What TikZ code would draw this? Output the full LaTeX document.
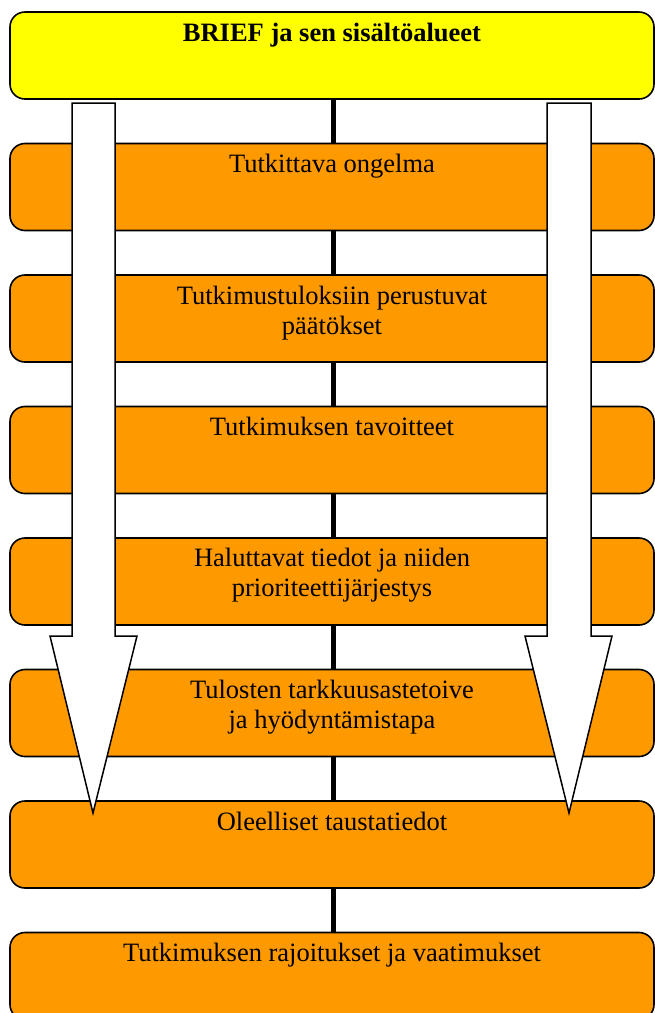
\documentclass[tikz,border=0pt]{standalone}
\usepackage{fontspec}
\setmainfont{Liberation Serif}
\definecolor{boxorange}{HTML}{FF9900}
\definecolor{boxyellow}{HTML}{FFFF00}
\begin{document}
\begin{tikzpicture}[x=1pt,y=-1pt,
  box/.style={draw=black, line width=1.6pt, rounded corners=15pt,
    minimum width=644pt, minimum height=87pt, inner sep=0pt, fill=boxorange},
  headbox/.style={box, fill=boxyellow},
  boxtext/.style={anchor=base, inner sep=0pt, align=center,
    font=\fontsize{26.5}{30}\selectfont},
  spine/.style={draw=black, line width=5pt},
  blockarrow/.style={draw=black, fill=white, line width=1.5pt, line join=miter}
]
\clip (0,0) rectangle (655,1013);

% stacked content boxes
\node[headbox] (b1) at (332,55.5) {};
\node[box] (b2) at (332,187) {};
\node[box] (b3) at (332,318.5) {};
\node[box] (b4) at (332,450) {};
\node[box] (b5) at (332,581.5) {};
\node[box] (b6) at (332,713) {};
\node[box] (b7) at (332,844.5) {};
\node[box] (b8) at (332,976) {};

% box titles (two-line titles are anchored on their last line)
\node[boxtext, font=\fontsize{26.5}{30}\selectfont\bfseries] (t1) at ([yshift=-30pt]b1.north) {BRIEF ja sen sisältöalueet};
\node[boxtext] (t2) at ([yshift=-30pt]b2.north) {Tutkittava ongelma};
\node[boxtext] (t3) at ([yshift=-60pt]b3.north) {Tutkimustuloksiin perustuvat\\päätökset};
\node[boxtext] (t4) at ([yshift=-30pt]b4.north) {Tutkimuksen tavoitteet};
\node[boxtext] (t5) at ([yshift=-59pt]b5.north) {Haluttavat tiedot ja niiden\\prioriteettijärjestys};
\node[boxtext] (t6) at ([yshift=-60pt]b6.north) {Tulosten tarkkuusastetoive\\ja hyödyntämistapa};
\node[boxtext] (t7) at ([yshift=-30pt]b7.north) {Oleelliset taustatiedot};
\node[boxtext] (t8) at ([yshift=-30pt]b8.north) {Tutkimuksen rajoitukset ja vaatimukset};

% central spine joining the boxes
\foreach \a/\b in {b1/b2,b2/b3,b3/b4,b4/b5,b5/b6,b6/b7,b7/b8}
  \draw[spine] ([xshift=1.5pt]\a.south) -- ([xshift=1.5pt]\b.north);

% two large downward block arrows
\coordinate (lefttip) at (93,813);
\coordinate (righttip) at (569,813);
\draw[blockarrow] (72,103) -- (115,103) -- (115,636) -- (137,636)
  -- (lefttip) -- (50,636) -- (72,636) -- cycle;
\draw[blockarrow] (547,103) -- (591,103) -- (591,636) -- (612,636)
  -- (righttip) -- (525,636) -- (547,636) -- cycle;
\end{tikzpicture}
\end{document}
